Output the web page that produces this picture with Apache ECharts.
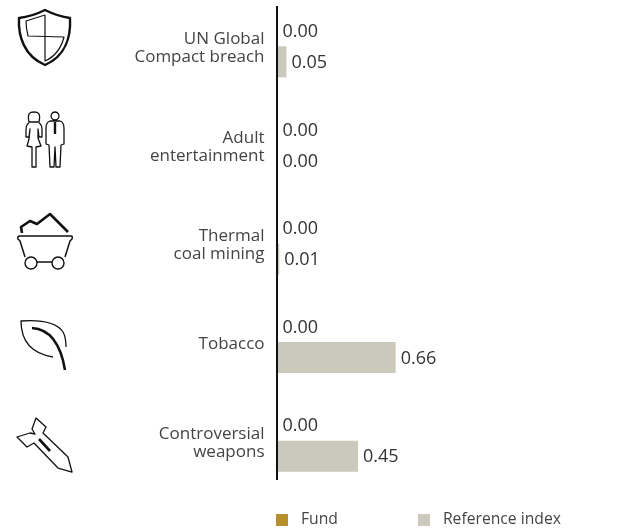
<!DOCTYPE html>
<html><head><meta charset="utf-8">
<style>html,body{margin:0;padding:0;background:#fff}#c{width:630px;height:528px}</style>
<script src="https://cdn.jsdelivr.net/npm/echarts@6/dist/echarts.min.js"></script>
</head><body><div id="c"></div>
<script>
const categories = ['UN Global\nCompact breach','Adult\nentertainment','Thermal\ncoal mining','Tobacco','Controversial\nweapons'];
const fundValues = [0,0,0,0,0];
const indexValues = [0.05,0,0.01,0.66,0.45];
const seriesNames = ['Fund','Reference index'];
const font = '"Open Sans"';
const iconPaths = [
 ['M45 10C37 14 28 17 19 18C18 36 24 56 45 65C66 56 71 36 70 18C62 17 53 14 45 10Z',2.4],
 ['M45 15L26 21C26 26 27 32 28 36L64 37C61 49 54 57 45 61L45 15',1.2],
 ['M29 122C27 113 30 112 34 112C38 112 41 113 39 122C37 122 31 122 29 122ZM29 123C27 124 26 126 26 130L26 137L29 137L30 129L29 139L27 146L32 147L32 167L36 167L36 147L41 146L38 138L38 129L39 137L42 137L42 130C42 126 41 124 39 123',1.3],
 ['M55 112A4 4 0 1 0 55.01 112ZM50 121C47 122 46 124 46 128L46 144L49 145L50 167L54 167L55 147L56 167L60 167L61 145L64 144L64 128C64 124 63 122 60 121Z',1.3],
 ['M55 122L55 134',2.4],
 ['M22 233L21 227L30 221L37 224L50 214L68 232',2.6],
 ['M19 236L71 236Q73 236 72 239L70 241L65 257M20 236Q17 236 18 239L20 241L25 257M37 262L52 262',1.5],
 ['M37 263A6 6 0 1 0 25 263A6 6 0 1 0 37 263ZM64 263A6 6 0 1 0 52 263A6 6 0 1 0 64 263Z',1.4],
 ['M53 357C35 354 21 345 21 321C35 320 55 320 63 332C66 337 66 342 66 347',1.3],
 ['M32 328C48 329 60 340 65 370',2.6],
 ['M36 418L46 427L43 433L68 457L72 472L58 468L34 443L27 447L17 437L30 433L35 434L32 429Z',1.3],
 ['M39 439L50 451',2.6]
];
const iconSvg = '<svg xmlns="http://www.w3.org/2000/svg" width="630" height="528" viewBox="0 0 630 528">' +
  iconPaths.map(a=>`<path d="${a[0]}" fill="none" stroke="#111" stroke-width="${a[1]}" stroke-linejoin="round"/>`).join('') + '</svg>';
const iconUri = 'data:image/svg+xml;charset=utf-8,' + encodeURIComponent(iconSvg);
const labelCfg = {show:true,position:'right',distance:5,offset:[0,1],fontFamily:font,fontSize:18,color:'#333',formatter:p=>p.value.toFixed(2)};
const chart = echarts.init(document.getElementById('c'));
chart.setOption({
  animation:false,
  backgroundColor:'#fff',
  grid:[
    {left:277.5,top:-3,width:179,height:493,containLabel:false,outerBoundsMode:'none'},
    {left:277.5,top:-1,width:179,height:493,containLabel:false,outerBoundsMode:'none'}
  ],
  xAxis:[
    {gridIndex:0,type:'value',min:0,max:1,show:false},
    {gridIndex:1,type:'value',min:0,max:1,show:false}
  ],
  yAxis:[
    {gridIndex:0,type:'category',inverse:true,data:categories,axisLine:{show:false},axisTick:{show:false},axisLabel:{show:false}},
    {gridIndex:1,type:'category',inverse:true,data:categories,axisLine:{show:false},axisTick:{show:false},
     axisLabel:{margin:13,fontFamily:font,fontSize:17,lineHeight:18,color:'#444',align:'right'}}
  ],
  legend:{left:276,top:512,padding:0,itemWidth:12,itemHeight:12,itemGap:80,icon:'rect',
    textStyle:{fontFamily:font,fontSize:15.7,color:'#444',padding:[0,0,0,8]},data:seriesNames},
  series:[
    {name:seriesNames[0],type:'bar',xAxisIndex:0,yAxisIndex:0,data:fundValues,barWidth:31,barGap:'0%',itemStyle:{color:'#b88f2d'},label:labelCfg},
    {name:seriesNames[1],type:'bar',xAxisIndex:0,yAxisIndex:0,data:indexValues,barWidth:31,itemStyle:{color:'#cbc9bb'},label:labelCfg}
  ],
  graphic:[
    {type:'line',silent:true,z:10,shape:{x1:277,y1:6,x2:277,y2:480},style:{stroke:'#111',lineWidth:2}},
    {type:'image',silent:true,x:0,y:0,style:{image:iconUri,x:0,y:0,width:630,height:528}}
  ]
});
</script></body></html>
